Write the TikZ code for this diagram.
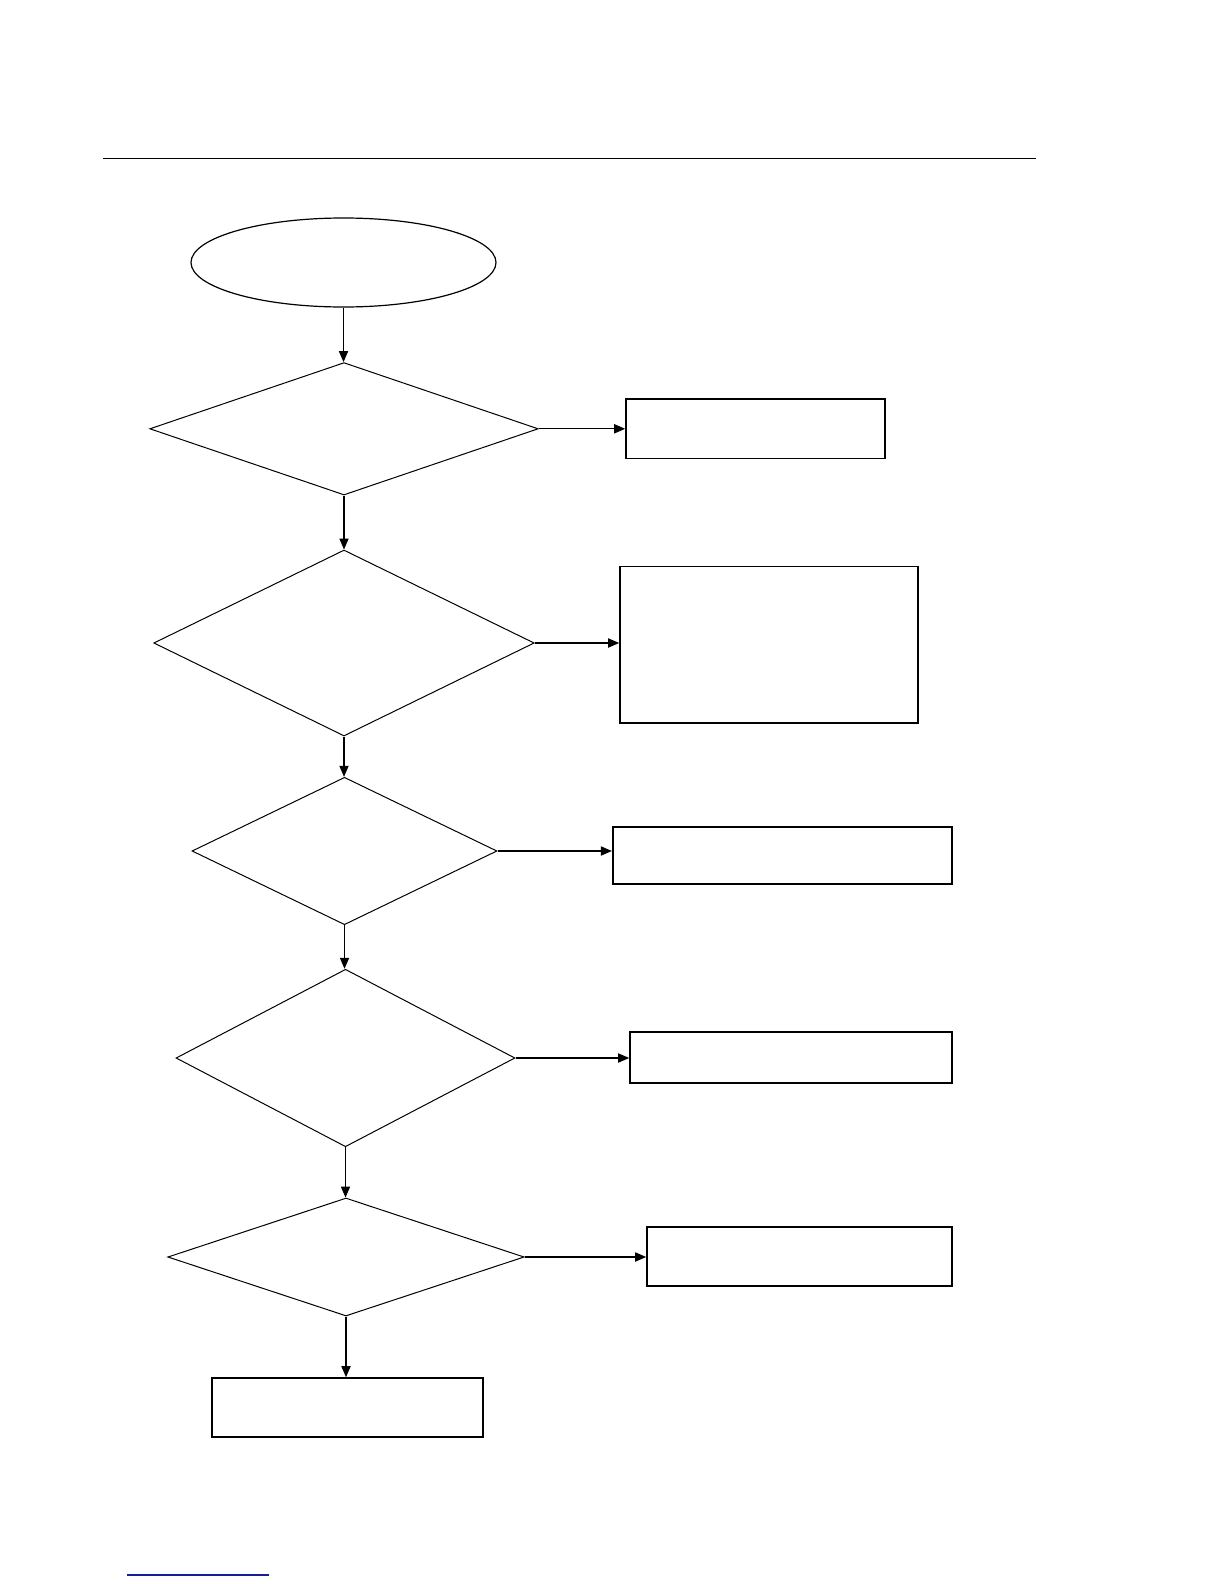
\documentclass[tikz,border=0pt]{standalone}
\usetikzlibrary{shapes.geometric,arrows.meta}
\begin{document}
\begin{tikzpicture}[x=0.5pt,y=-0.5pt,
  dec/.style={draw,diamond,inner sep=0pt,line width=0.5pt},
  box/.style={draw,rectangle,inner sep=0pt,line width=0.8pt},
  arr/.style={-{Triangle[length=5.5pt,width=4.6pt]},line width=0.55pt}]
\useasboundingbox (0,0) rectangle (1224,1584);
\draw[line width=0.9pt] (103,158.5) -- (1036,158.5);
\draw[line width=0.6pt,color={rgb,255:red,20;green,30;blue,150}] (127,1575) -- (269,1575);

\node[draw,ellipse,inner sep=0pt,line width=0.6pt,minimum width=152.5pt,minimum height=44.5pt] (e) at (343.5,262.5) {};

\node[dec,minimum width=194.25pt,minimum height=66.2pt] (d1) at (344,428.8) {};
\node[dec,minimum width=190.25pt,minimum height=93pt] (d2) at (344,643) {};
\node[dec,minimum width=152.5pt,minimum height=73.7pt] (d3) at (344.5,851) {};
\node[dec,minimum width=169.5pt,minimum height=88.75pt] (d4) at (345.5,1058) {};
\node[dec,minimum width=178.2pt,minimum height=59pt] (d5) at (346,1257) {};

\node[box,minimum width=129.5pt,minimum height=29.75pt] (b1) at (755.5,428.75) {};
\node[box,minimum width=149pt,minimum height=78.25pt] (b2) at (769,644.75) {};
\node[box,line width=1.1pt,minimum width=169.5pt,minimum height=28.5pt] (b3) at (782.5,855.5) {};
\node[box,minimum width=161pt,minimum height=25.5pt] (b4) at (791,1057.5) {};
\node[box,minimum width=152.5pt,minimum height=29.5pt] (b5) at (799.5,1256.5) {};
\node[box,minimum width=135.5pt,minimum height=29.5pt] (b6) at (347.5,1407.5) {};

\draw[arr] (e.south) -- (e.south |- d1.north);
\draw[arr] (d1.south) -- (d1.south |- d2.north);
\draw[arr] (d2.south) -- (d2.south |- d3.north);
\draw[arr] (d3.south) -- (d3.south |- d4.north);
\draw[arr] (d4.south) -- (d4.south |- d5.north);
\draw[arr] (d5.south) -- (d5.south |- b6.north);

\draw[arr] (d1.east) -- (d1.east -| b1.west);
\draw[arr] (d2.east) -- (d2.east -| b2.west);
\draw[arr] (d3.east) -- (d3.east -| b3.west);
\draw[arr] (d4.east) -- (d4.east -| b4.west);
\draw[arr] (d5.east) -- (d5.east -| b5.west);
\end{tikzpicture}
\end{document}
